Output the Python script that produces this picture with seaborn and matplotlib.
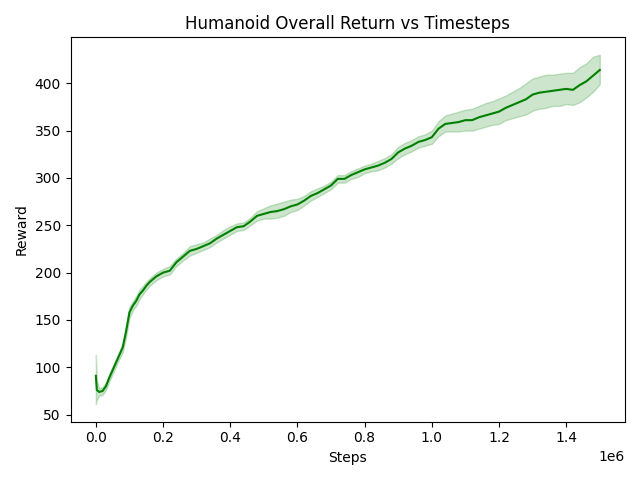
import numpy as np
import pandas as pd
import seaborn as sns
import matplotlib
matplotlib.use('Agg')
import matplotlib.pyplot as plt

# 数据（从图中读取，步数单位 1e6）
steps = [0.000, 0.003, 0.010, 0.020, 0.030, 0.040, 0.050, 0.060, 0.070, 0.080,
         0.090, 0.100, 0.110, 0.120, 0.130, 0.140, 0.150, 0.160, 0.180, 0.200,
         0.220, 0.240, 0.260, 0.280, 0.300, 0.320, 0.340, 0.360, 0.380, 0.400,
         0.420, 0.440, 0.460, 0.480, 0.500, 0.520, 0.540, 0.560, 0.580, 0.600,
         0.620, 0.640, 0.660, 0.680, 0.700, 0.720, 0.740, 0.760, 0.780, 0.800,
         0.820, 0.840, 0.860, 0.880, 0.900, 0.920, 0.940, 0.960, 0.980, 1.000,
         1.020, 1.040, 1.060, 1.080, 1.100, 1.120, 1.140, 1.160, 1.180, 1.200,
         1.220, 1.240, 1.260, 1.280, 1.300, 1.320, 1.340, 1.360, 1.380, 1.400,
         1.420, 1.440, 1.460, 1.480, 1.500]
reward = [91, 76, 74, 75, 80, 89, 97, 105, 113, 121,
          138, 158, 165, 170, 177, 181, 186, 190, 196, 200,
          202, 211, 217, 223, 225, 228, 231, 236, 240, 244,
          248, 249, 254, 260, 262, 264, 265, 267, 270, 272,
          276, 281, 284, 288, 292, 299, 299, 303, 306, 309,
          311, 313, 316, 320, 327, 331, 334, 338, 340, 343,
          352, 357, 358, 359, 361, 361, 364, 366, 368, 370,
          374, 377, 380, 383, 388, 390, 391, 392, 393, 394,
          393, 398, 402, 408, 414]
lower = [61, 66, 70, 71, 76, 85, 93, 101, 109, 116,
         132, 152, 160, 165, 172, 177, 182, 186, 192, 196,
         198, 207, 213, 218, 221, 224, 227, 232, 236, 240,
         244, 245, 250, 255, 257, 257, 258, 260, 264, 266,
         271, 276, 280, 284, 288, 295, 295, 299, 301, 305,
         307, 308, 311, 315, 321, 325, 328, 332, 334, 336,
         344, 349, 349, 349, 350, 350, 352, 354, 356, 357,
         361, 363, 365, 367, 371, 373, 374, 376, 376, 378,
         377, 380, 385, 391, 399]
upper = [113, 86, 78, 79, 84, 93, 101, 109, 117, 126,
         144, 164, 170, 175, 182, 186, 190, 194, 200, 204,
         207, 215, 221, 228, 230, 232, 236, 240, 245, 249,
         252, 253, 258, 265, 268, 271, 273, 275, 277, 278,
         281, 286, 289, 292, 296, 303, 303, 307, 310, 313,
         315, 318, 321, 325, 333, 337, 340, 344, 346, 350,
         360, 366, 368, 370, 372, 373, 376, 379, 381, 384,
         387, 391, 395, 400, 405, 407, 409, 409, 410, 411,
         411, 417, 421, 428, 430]

df = pd.DataFrame({'Steps': np.array(steps) * 1e6, 'Reward': reward})

fig, ax = plt.subplots(figsize=(6.4, 4.8), dpi=100)
ax.fill_between(df['Steps'], lower, upper, color='green', alpha=0.2)
sns.lineplot(data=df, x='Steps', y='Reward', color='green', linewidth=1.5, ax=ax)
ax.set_title('Humanoid Overall Return vs Timesteps')
ax.set_xlabel('Steps')
ax.set_ylabel('Reward')
plt.tight_layout()
plt.savefig('out.png')
